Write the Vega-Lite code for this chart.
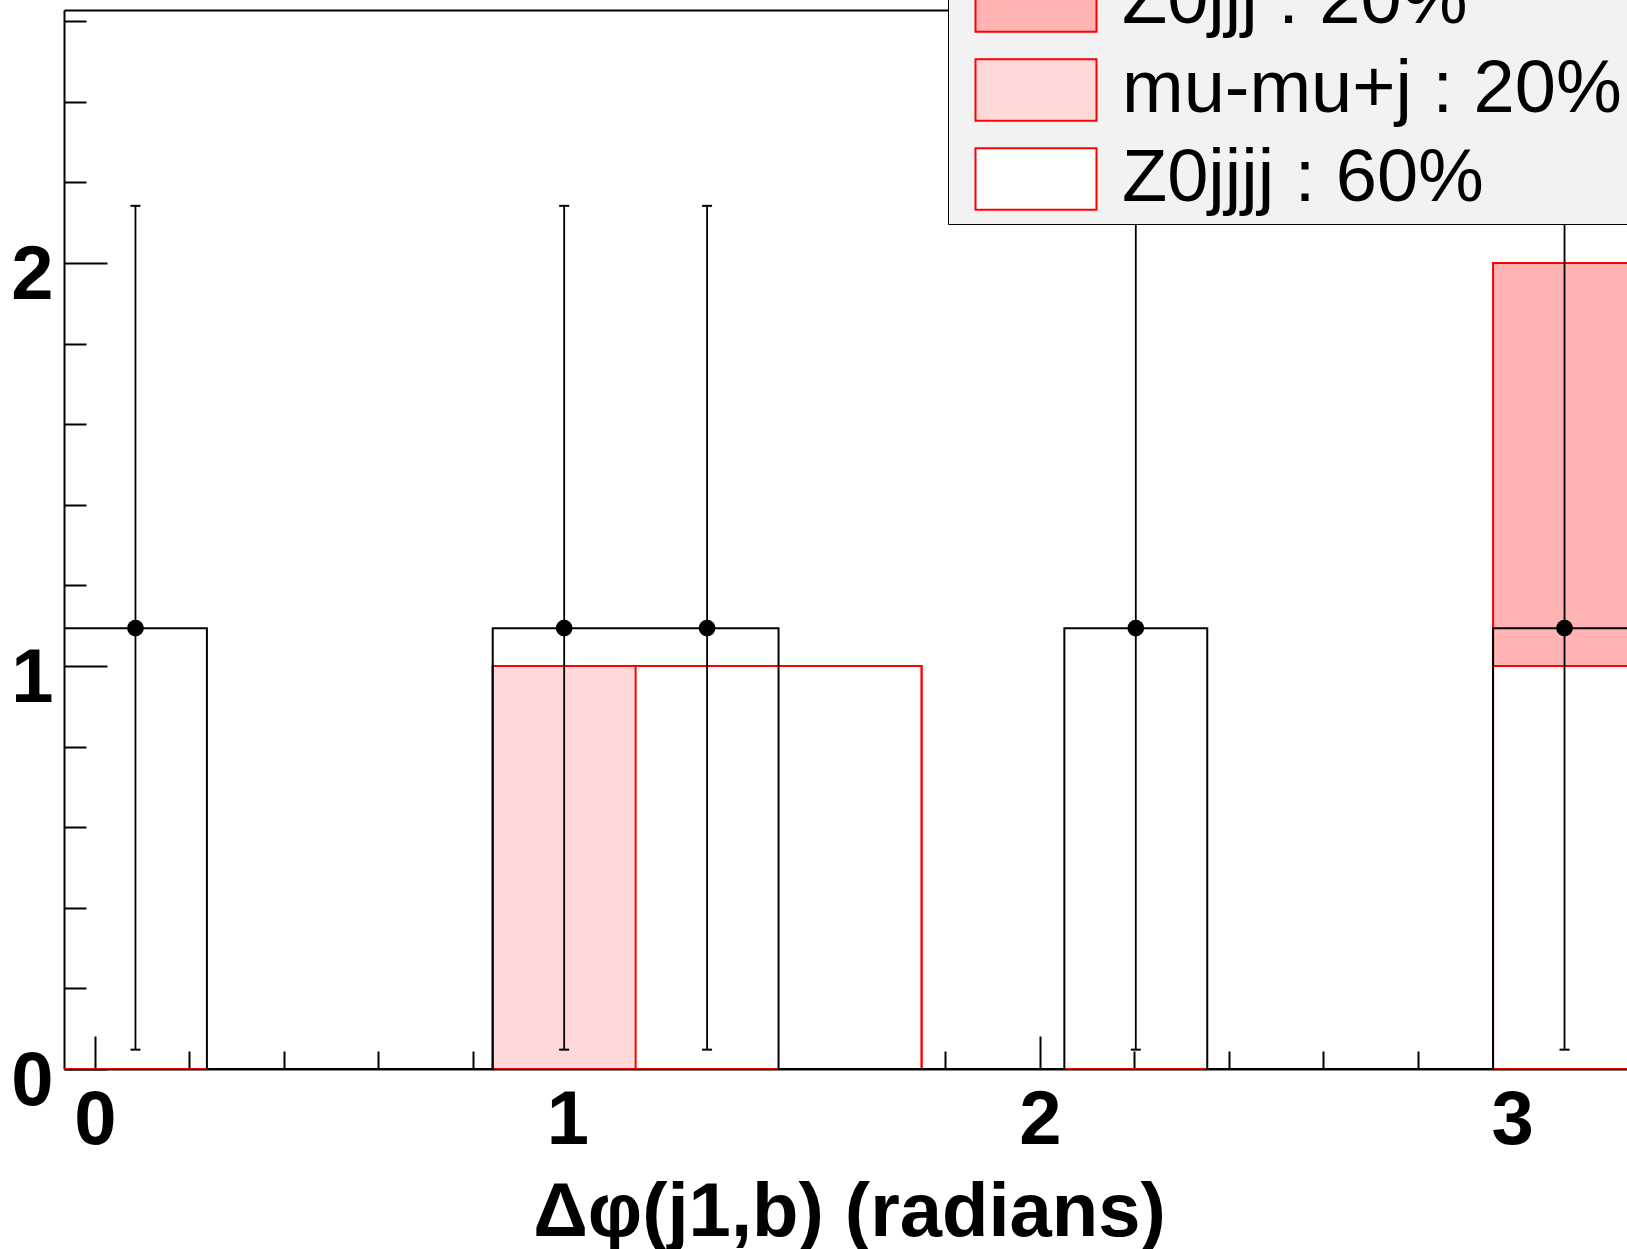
{
  "$schema": "https://vega.github.io/schema/vega-lite/v6.json",
  "autosize": "none",
  "padding": {"left": 64, "top": 10, "right": 0, "bottom": 180},
  "width": 1563,
  "height": 1059,
  "background": "white",
  "config": {"view": {"stroke": null}, "axis": {"grid": false}},
  "datasets": {
    "hist": [
      {"s": "tot", "comp": "Z0jjj : 20%", "x": -0.0655, "y": 0},
      {"s": "tot", "comp": "Z0jjj : 20%", "x": 0.237, "y": 0},
      {"s": "tot", "comp": "Z0jjj : 20%", "x": 0.5395, "y": 0},
      {"s": "tot", "comp": "Z0jjj : 20%", "x": 0.842, "y": 1},
      {"s": "tot", "comp": "Z0jjj : 20%", "x": 1.1445, "y": 1},
      {"s": "tot", "comp": "Z0jjj : 20%", "x": 1.447, "y": 1},
      {"s": "tot", "comp": "Z0jjj : 20%", "x": 1.7495, "y": 0},
      {"s": "tot", "comp": "Z0jjj : 20%", "x": 2.052, "y": 0},
      {"s": "tot", "comp": "Z0jjj : 20%", "x": 2.3545, "y": 0},
      {"s": "tot", "comp": "Z0jjj : 20%", "x": 2.657, "y": 0},
      {"s": "tot", "comp": "Z0jjj : 20%", "x": 2.9595, "y": 2},
      {"s": "tot", "comp": "Z0jjj : 20%", "x": 3.262, "y": 0},
      {"s": "mid", "comp": "mu-mu+j : 20%", "x": -0.0655, "y": 0},
      {"s": "mid", "comp": "mu-mu+j : 20%", "x": 0.237, "y": 0},
      {"s": "mid", "comp": "mu-mu+j : 20%", "x": 0.5395, "y": 0},
      {"s": "mid", "comp": "mu-mu+j : 20%", "x": 0.842, "y": 1},
      {"s": "mid", "comp": "mu-mu+j : 20%", "x": 1.1445, "y": 1},
      {"s": "mid", "comp": "mu-mu+j : 20%", "x": 1.447, "y": 1},
      {"s": "mid", "comp": "mu-mu+j : 20%", "x": 1.7495, "y": 0},
      {"s": "mid", "comp": "mu-mu+j : 20%", "x": 2.052, "y": 0},
      {"s": "mid", "comp": "mu-mu+j : 20%", "x": 2.3545, "y": 0},
      {"s": "mid", "comp": "mu-mu+j : 20%", "x": 2.657, "y": 0},
      {"s": "mid", "comp": "mu-mu+j : 20%", "x": 2.9595, "y": 1},
      {"s": "mid", "comp": "mu-mu+j : 20%", "x": 3.262, "y": 0},
      {"s": "low", "comp": "Z0jjjj : 60%", "x": -0.0655, "y": 0},
      {"s": "low", "comp": "Z0jjjj : 60%", "x": 0.237, "y": 0},
      {"s": "low", "comp": "Z0jjjj : 60%", "x": 0.5395, "y": 0},
      {"s": "low", "comp": "Z0jjjj : 60%", "x": 0.842, "y": 0},
      {"s": "low", "comp": "Z0jjjj : 60%", "x": 1.1445, "y": 1},
      {"s": "low", "comp": "Z0jjjj : 60%", "x": 1.447, "y": 1},
      {"s": "low", "comp": "Z0jjjj : 60%", "x": 1.7495, "y": 0},
      {"s": "low", "comp": "Z0jjjj : 60%", "x": 2.052, "y": 0},
      {"s": "low", "comp": "Z0jjjj : 60%", "x": 2.3545, "y": 0},
      {"s": "low", "comp": "Z0jjjj : 60%", "x": 2.657, "y": 0},
      {"s": "low", "comp": "Z0jjjj : 60%", "x": 2.9595, "y": 1},
      {"s": "low", "comp": "Z0jjjj : 60%", "x": 3.262, "y": 0},
      {"s": "data", "comp": "data", "x": -0.0655, "y": 1.094},
      {"s": "data", "comp": "data", "x": 0.237, "y": 0},
      {"s": "data", "comp": "data", "x": 0.5395, "y": 0},
      {"s": "data", "comp": "data", "x": 0.842, "y": 1.094},
      {"s": "data", "comp": "data", "x": 1.1445, "y": 1.094},
      {"s": "data", "comp": "data", "x": 1.447, "y": 0},
      {"s": "data", "comp": "data", "x": 1.7495, "y": 0},
      {"s": "data", "comp": "data", "x": 2.052, "y": 1.094},
      {"s": "data", "comp": "data", "x": 2.3545, "y": 0},
      {"s": "data", "comp": "data", "x": 2.657, "y": 0},
      {"s": "data", "comp": "data", "x": 2.9595, "y": 1.094},
      {"s": "data", "comp": "data", "x": 3.262, "y": 0}
    ],
    "pts": [
      {"x": 0.08575, "y": 1.094, "lo": 0.048, "hi": 2.142},
      {"x": 0.99325, "y": 1.094, "lo": 0.048, "hi": 2.142},
      {"x": 1.29575, "y": 1.094, "lo": 0.048, "hi": 2.142},
      {"x": 2.20325, "y": 1.094, "lo": 0.048, "hi": 2.142},
      {"x": 3.11075, "y": 1.094, "lo": 0.048, "hi": 2.142}
    ]
  },
  "resolve": {"axis": {"x": "independent"}},
  "layer": [
    {
      "data": {"name": "hist"},
      "transform": [{"filter": "datum.s === 'tot'"}],
      "mark": {"type": "area", "interpolate": "step-after", "stroke": "red", "strokeWidth": 2, "opacity": 1, "clip": true},
      "encoding": {
        "x": {"field": "x", "type": "quantitative",
          "scale": {"domain": [-0.0655, 3.243], "nice": false, "zero": false},
          "axis": {
            "orient": "bottom",
            "values": [0, 0.2, 0.4, 0.6, 0.8, 1, 1.2, 1.4, 1.6, 1.8, 2, 2.2, 2.4, 2.6, 2.8, 3, 3.2],
            "tickSize": {"condition": {"test": "datum.value % 1 === 0", "value": -33}, "value": -18},
            "tickWidth": 2, "tickColor": "black",
            "domainColor": "black", "domainWidth": 2,
            "labelExpr": "datum.value % 1 === 0 ? '' + datum.value : ''",
            "labelFont": "Liberation Sans", "labelFontWeight": "bold", "labelFontSize": 76, "labelColor": "black",
            "labelPadding": 47, "labelFlush": false, "labelOverlap": false, "labelBound": false,
            "grid": false,
            "title": "Δφ(j1,b) (radians)",
            "titleFont": "Liberation Sans", "titleFontWeight": "bold", "titleFontSize": 76, "titleColor": "black",
            "titleX": 785, "titleY": 166, "titleAlign": "center", "titleBaseline": "alphabetic"
          }
        },
        "y": {"field": "y", "type": "quantitative", "stack": null,
          "scale": {"domain": [0, 2.628], "nice": false, "zero": false},
          "axis": {
            "orient": "left",
            "values": [0, 0.2, 0.4, 0.6, 0.8, 1, 1.2, 1.4, 1.6, 1.8, 2, 2.2, 2.4, 2.6],
            "tickSize": {"condition": {"test": "datum.value % 1 === 0", "value": -43}, "value": -22},
            "tickWidth": 2, "tickColor": "black",
            "domainColor": "black", "domainWidth": 2,
            "labelExpr": "datum.value % 1 === 0 ? '' + datum.value : ''",
            "labelFont": "Liberation Sans", "labelFontWeight": "bold", "labelFontSize": 76, "labelColor": "black",
            "labelPadding": 54, "labelOffset": 12, "labelFlush": false, "labelOverlap": false, "labelBound": false,
            "grid": false, "title": null
          }
        },
        "fill": {"field": "comp", "type": "nominal",
          "scale": {"domain": ["Z0jjj : 20%", "mu-mu+j : 20%", "Z0jjjj : 60%"], "range": ["#ffb3b3", "#ffd9d9", "#ffffff"]},
          "legend": {
            "orient": "none", "legendX": 884, "legendY": -54, "title": null, "direction": "vertical",
            "symbolType": "M-2,-1.02H2V1.02H-2Z", "symbolSize": 3660,
            "symbolStrokeColor": "red", "symbolStrokeWidth": 2, "symbolOpacity": 1, "symbolOffset": 43,
            "labelFont": "Liberation Sans", "labelFontSize": 74, "labelColor": "black", "labelLimit": 1000, "labelOffset": 49,
            "padding": 8, "rowPadding": 15,
            "fillColor": "#f2f2f2", "strokeColor": "black", "cornerRadius": 0
          }
        }
      }
    },
    {
      "data": {"name": "hist"},
      "transform": [{"filter": "datum.s === 'mid'"}],
      "mark": {"type": "area", "interpolate": "step-after", "stroke": "red", "strokeWidth": 2, "opacity": 1, "clip": true},
      "encoding": {
        "x": {"field": "x", "type": "quantitative", "axis": null},
        "y": {"field": "y", "type": "quantitative", "stack": null, "axis": {"title": null}},
        "fill": {"field": "comp", "type": "nominal"}
      }
    },
    {
      "data": {"name": "hist"},
      "transform": [{"filter": "datum.s === 'low'"}],
      "mark": {"type": "area", "interpolate": "step-after", "stroke": "red", "strokeWidth": 2, "opacity": 1, "clip": true},
      "encoding": {
        "x": {"field": "x", "type": "quantitative", "axis": null},
        "y": {"field": "y", "type": "quantitative", "stack": null, "axis": {"title": null}},
        "fill": {"field": "comp", "type": "nominal"}
      }
    },
    {
      "data": {"name": "hist"},
      "transform": [{"filter": "datum.s === 'data'"}],
      "mark": {"type": "line", "interpolate": "step-after", "stroke": "black", "strokeWidth": 2, "clip": true},
      "encoding": {
        "x": {"field": "x", "type": "quantitative",
          "axis": {"orient": "top", "domain": true, "domainColor": "black", "domainWidth": 2, "ticks": false, "labels": false, "grid": false, "title": null}},
        "y": {"field": "y", "type": "quantitative", "axis": {"title": null}}
      }
    },
    {
      "data": {"name": "pts"},
      "mark": {"type": "rule", "color": "black", "strokeWidth": 1.8},
      "encoding": {
        "x": {"field": "x", "type": "quantitative", "axis": null},
        "y": {"field": "lo", "type": "quantitative", "axis": {"title": null}},
        "y2": {"field": "hi"}
      }
    },
    {
      "data": {"name": "pts"},
      "mark": {"type": "tick", "orient": "horizontal", "size": 10, "thickness": 2, "color": "black", "opacity": 1},
      "encoding": {
        "x": {"field": "x", "type": "quantitative", "axis": null},
        "y": {"field": "hi", "type": "quantitative", "axis": {"title": null}}
      }
    },
    {
      "data": {"name": "pts"},
      "mark": {"type": "tick", "orient": "horizontal", "size": 10, "thickness": 2, "color": "black", "opacity": 1},
      "encoding": {
        "x": {"field": "x", "type": "quantitative", "axis": null},
        "y": {"field": "lo", "type": "quantitative", "axis": {"title": null}}
      }
    },
    {
      "data": {"name": "pts"},
      "mark": {"type": "point", "shape": "circle", "filled": true, "size": 280, "color": "black", "opacity": 1},
      "encoding": {
        "x": {"field": "x", "type": "quantitative", "axis": null},
        "y": {"field": "y", "type": "quantitative", "axis": {"title": null}}
      }
    }
  ]
}
